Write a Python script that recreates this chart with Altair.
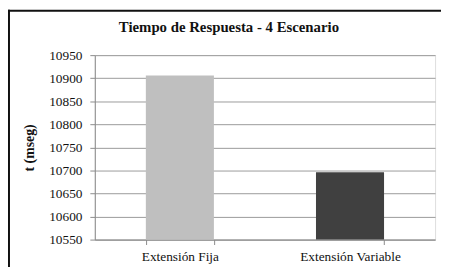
import altair as alt
import pandas as pd

title_text = "Tiempo de Respuesta - 4 Escenario"
categories = ["Extensión Fija", "Extensión Variable"]
values = [10906, 10696]
colors = ["#bfbfbf", "#404040"]
y_ticks = [10550, 10600, 10650, 10700, 10750, 10800, 10850, 10900, 10950]

df = pd.DataFrame({"cat": categories, "val": values, "color": colors})

FONT = "Liberation Serif"

bars = alt.Chart(df).mark_bar(clip=True).encode(
    x=alt.X(
        "cat:N",
        sort=categories,
        title=None,
        scale=alt.Scale(paddingInner=0.6, paddingOuter=0.3),
        axis=alt.Axis(
            labelAngle=0,
            tickBand="extent",
            grid=False,
            tickSize=5,
            tickColor="#8a8a8a",
            domainColor="#8a8a8a",
            labelFont=FONT,
            labelFontSize=13.5,
            labelColor="#111111",
            labelPadding=5,
        ),
    ),
    y=alt.Y(
        "val:Q",
        title="t (mseg)",
        scale=alt.Scale(domain=[y_ticks[0], y_ticks[-1]], zero=False, nice=False),
        axis=alt.Axis(
            values=y_ticks,
            format="d",
            grid=True,
            gridColor="#9a9a9a",
            tickSize=5,
            tickColor="#8a8a8a",
            domainColor="#8a8a8a",
            labelFont=FONT,
            labelFontSize=13.5,
            labelColor="#111111",
            labelPadding=8,
            titleFont=FONT,
            titleFontSize=14,
            titleFontWeight="bold",
            titleColor="#111111",
            titlePadding=12,
        ),
    ),
    color=alt.Color("color:N", scale=None, legend=None),
)

single = alt.Chart(pd.DataFrame({"k": [title_text]}))
title_mark = single.mark_text(
    font=FONT, fontSize=15, fontWeight="bold", color="#111111",
    align="center", baseline="middle",
).encode(text="k:N", x=alt.value(136), y=alt.value(-28))

left_line = single.mark_rule(color="#111111", strokeWidth=2).encode(
    x=alt.value(-87), y=alt.value(-46), y2=alt.value(215)
)
top_line = single.mark_rule(color="#111111", strokeWidth=2).encode(
    x=alt.value(-88), x2=alt.value(352), y=alt.value(-45)
)

chart = (
    alt.layer(bars, title_mark, left_line, top_line)
    .properties(
        width=345,
        height=187,
        padding={"left": 88, "top": 46, "right": 6, "bottom": 26},
        autosize=alt.AutoSizeParams(type="none"),
    )
    .configure_view(strokeWidth=0)
    .configure(background="white")
)

chart.save("out.html", embed_options={"renderer": "svg", "actions": False})
